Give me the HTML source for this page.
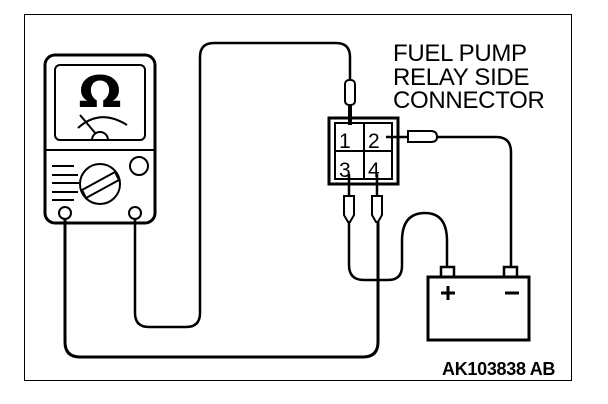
<!DOCTYPE html>
<html><head><style>html,body{margin:0;padding:0;background:#fff}svg{display:block}</style></head><body>
<svg width="608" height="404" viewBox="0 0 608 404" xmlns="http://www.w3.org/2000/svg" font-family="Liberation Sans, sans-serif">
<rect x="24.5" y="14.5" width="547" height="366" fill="none" stroke="#000" stroke-width="1"/>
<g fill="none" stroke="#000" stroke-width="3">
<rect x="45" y="55" width="110" height="168" rx="10"/>
<rect x="55" y="65" width="90" height="75" rx="5" stroke-width="2"/>
<line x1="45" y1="150" x2="155" y2="150" stroke-width="2"/>
<path d="M78 128 Q100 108 127 125" stroke-width="2"/>
<line x1="80" y1="115" x2="96" y2="134" stroke-width="2"/>
<path d="M92 140 A6 6 0 0 1 108 140" stroke-width="2"/>
<circle cx="100" cy="184" r="20" stroke-width="2"/>
<path d="M82 190 L115 172 L119 180 L86 198 Z" stroke-width="2"/>
<path d="M52 166 H74 M52 175 H78 M52 183 H79 M52 192 H78 M52 200 H74" stroke-width="2"/>
<circle cx="139" cy="166" r="9" stroke-width="2"/>
<circle cx="65" cy="213" r="6" stroke-width="2"/>
<circle cx="135" cy="213" r="6" stroke-width="2"/>
<path d="M65 219 V342 Q65 357 80 357 H363 Q378 357 378 342 V222"/>
<path d="M135 219 V313 Q135 327 149 327 H186 Q200 327 200 313 V57 Q200 43 214 43 H336 Q350 43 350 57 V80" stroke-width="2.5"/>
<path d="M350 105 V125" stroke-width="4"/>
<rect x="345" y="80" width="10" height="25" rx="4" stroke-width="2"/>
<rect x="329" y="118" width="69" height="66" stroke-width="3"/>
<rect x="335" y="123" width="57" height="56" stroke-width="2"/>
<line x1="364" y1="123" x2="364" y2="179" stroke-width="2"/>
<line x1="335" y1="151" x2="392" y2="151" stroke-width="2"/>
<path d="M386 137 H408" stroke-width="2.5"/>
<path d="M408 131 H431 Q437 131 437 137 Q437 142 431 142 H408 Z" stroke-width="2"/>
<path d="M437 137 H496 Q511 137 511 152 V267" stroke-width="2.5"/>
<path d="M349 174 V196 M377 174 V196" stroke-width="2.5"/>
<path d="M344 196 H354 V215 L350 222 L348 222 L344 215 Z" stroke-width="2"/>
<path d="M372 196 H382 V215 L378 222 L376 222 L372 215 Z" stroke-width="2"/>
<path d="M349 222 V265 Q349 280 364 280 H388 Q402 280 402 266 V241 Q402 213 425 213 Q447 213 447 241 V267" stroke-width="2.5"/>
<rect x="428" y="277" width="101" height="63" stroke-width="3"/>
<rect x="441" y="267" width="13" height="10" stroke-width="2.5"/>
<rect x="504" y="267" width="13" height="10" stroke-width="2.5"/>
<path d="M441 293 H455 M448 286 V300 M505 293 H519" stroke-width="3"/>
</g>
<text x="100" y="107" font-size="44" font-weight="bold" text-anchor="middle" font-family="DejaVu Sans, sans-serif" transform="translate(100 0) scale(1.15 1) translate(-100 0)">Ω</text>
<g font-size="21" fill="#000">
<text x="339" y="148">1</text><text x="368" y="148">2</text>
<text x="339" y="177">3</text><text x="368" y="177">4</text>
</g>
<g font-size="24" fill="#000" letter-spacing="-0.3">
<text x="393" y="61">FUEL PUMP</text>
<text x="393" y="85">RELAY SIDE</text>
<text x="393" y="108">CONNECTOR</text>
</g>
<text x="442" y="375" font-size="18" font-weight="bold" fill="#000" letter-spacing="-0.3">AK103838 AB</text>
</svg>
</body></html>
